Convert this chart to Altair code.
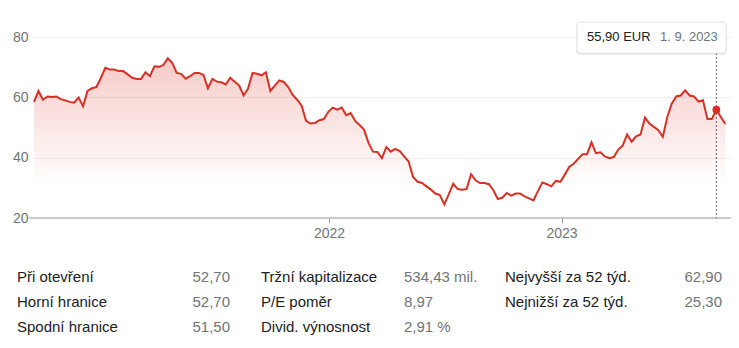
import altair as alt
import pandas as pd

# Weekly closing prices (EUR)
values = [
    58.5, 62.1, 59.2, 60.3, 60.1, 60.3, 59.4, 59.0, 58.5, 58.2, 59.9, 57.0,
    62.1, 63.0, 63.4, 66.5, 69.8, 69.2, 69.2, 68.7, 68.7, 67.6, 66.5, 66.1,
    66.1, 68.3, 67.0, 70.3, 70.1, 70.7, 72.9, 71.4, 68.1, 67.8, 66.2, 67.0,
    68.1, 68.1, 67.4, 63.0, 66.1, 65.2, 65.0, 64.3, 66.5, 65.2, 63.9, 60.6,
    62.9, 68.1, 67.8, 67.3, 68.3, 62.1, 63.9, 65.6, 65.1, 63.4, 60.8, 59.2,
    57.3, 52.2, 51.3, 51.5, 52.4, 52.8, 55.2, 56.6, 55.9, 56.6, 54.1, 54.8,
    52.2, 50.8, 49.3, 44.9, 42.0, 41.9, 39.8, 43.5, 42.0, 42.9, 42.2, 40.4,
    38.7, 33.6, 32.0, 31.6, 30.5, 29.4, 28.1, 27.6, 24.5, 27.8, 31.4, 29.6,
    29.4, 29.6, 34.5, 32.5, 31.6, 31.6, 31.2,
    29.2, 26.3, 26.7, 28.3, 27.4, 28.1, 28.1, 27.2, 26.5, 25.8, 28.9, 31.8,
    31.2, 30.5, 32.3, 32.0, 34.3, 36.9, 38.0, 39.6, 41.1, 41.1, 45.1, 41.5,
    41.8, 40.4, 39.8, 40.2, 42.7, 44.0, 47.7, 45.3, 47.1, 47.7, 53.3, 51.3,
    50.2, 49.1, 46.9, 53.5, 57.9, 60.3, 60.6, 62.3, 60.6, 60.3, 58.6, 59.0,
    52.8, 52.8, 55.9, 53.5, 51.2,
]
dates = pd.date_range("2020-09-25", periods=len(values), freq="7D").strftime("%Y-%m-%d").tolist()

y_ticks = [20, 40, 60, 80]
x_tick_years = [2022, 2023]

marker_date = "2023-09-01"
tooltip_price = "55,90 EUR"
tooltip_date = "1. 9. 2023"

labels1 = ["Při otevření", "Horní hranice", "Spodní hranice"]
values1 = ["52,70", "52,70", "51,50"]
labels2 = ["Tržní kapitalizace", "P/E poměr", "Divid. výnosnost"]
values2 = ["534,43 mil.", "8,97", "2,91 %"]
labels3 = ["Nejvyšší za 52 týd.", "Nejnižší za 52 týd."]
values3 = ["62,90", "25,30"]

FONT = "Liberation Sans"
RED = "#d93025"
W, H = 697, 181

df = pd.DataFrame({"date": dates, "value": values})
marker_df = df[df["date"] == marker_date]
one = pd.DataFrame({"k": [0]})


def dt(y, m, d):
    return alt.DateTime(year=y, month=m, date=d, utc=True)


x_enc = alt.X(
    "date:T",
    scale=alt.Scale(type="utc", domain=[dt(2020, 9, 25), dt(2023, 9, 24)]),
    axis=alt.Axis(
        values=[dt(yr, 1, 1) for yr in x_tick_years],
        format="%Y",
        title=None,
        grid=False,
        domain=False,
        ticks=True,
        tickSize=5,
        tickColor="#9aa0a6",
        labelColor="#70757a",
        labelFontSize=14,
        labelFont=FONT,
        labelPadding=3,
    ),
)
y_enc = alt.Y(
    "value:Q",
    scale=alt.Scale(domain=[20, 80], zero=False, nice=False),
    axis=alt.Axis(
        values=y_ticks,
        title=None,
        domain=False,
        ticks=False,
        labelPadding=6,
        gridColor="#eeeeee",
        labelColor="#70757a",
        labelFontSize=14,
        labelFont=FONT,
    ),
)

gradient = alt.Gradient(
    gradient="linear",
    stops=[
        alt.GradientStop(color="rgba(219,68,55,0.28)", offset=0),
        alt.GradientStop(color="rgba(219,68,55,0.0)", offset=0.8),
    ],
    x1=1, x2=1, y1=0, y2=1,
)

area = alt.Chart(df).mark_area(color=gradient).encode(x=x_enc, y=y_enc, y2=alt.datum(20))
line = alt.Chart(df).mark_line(color=RED, strokeWidth=2).encode(x=x_enc, y=y_enc)

baseline = alt.Chart(one).mark_rule(color="#9aa0a6", strokeWidth=1.2).encode(
    x=alt.value(-5), x2=alt.value(W), y=alt.value(H)
)

vline = alt.Chart(marker_df).mark_rule(color="#5f6368", strokeDash=[2, 2], strokeWidth=1).encode(
    x=x_enc, y=alt.value(16), y2=alt.value(H)
)
dot = alt.Chart(marker_df).mark_circle(size=60, color=RED, opacity=1).encode(x=x_enc, y=y_enc)

shadow = alt.Chart(one).mark_rect(color="#000000", opacity=0.07, cornerRadius=4).encode(
    x=alt.value(542), x2=alt.value(693), y=alt.value(-14), y2=alt.value(18)
)
box = alt.Chart(one).mark_rect(fill="white", stroke="#e3e3e3", strokeWidth=1, cornerRadius=3).encode(
    x=alt.value(543), x2=alt.value(692), y=alt.value(-15), y2=alt.value(16)
)
tt_price = alt.Chart(pd.DataFrame({"t": [tooltip_price]})).mark_text(
    align="left", baseline="middle", font=FONT, fontSize=13, color="#202124"
).encode(x=alt.value(553), y=alt.value(0), text="t:N")
tt_date = alt.Chart(pd.DataFrame({"t": [tooltip_date]})).mark_text(
    align="left", baseline="middle", font=FONT, fontSize=13, color="#70757a"
).encode(x=alt.value(626), y=alt.value(0), text="t:N")

row_y = [240, 265, 290]
table_layers = []
columns = [
    (labels1, -17, "left", "#202124"),
    (values1, 196, "right", "#70757a"),
    (labels2, 227, "left", "#202124"),
    (values2, 370, "left", "#70757a"),
    (labels3, 471, "left", "#202124"),
    (values3, 688, "right", "#70757a"),
]
for texts, px, al, col in columns:
    for i, t in enumerate(texts):
        table_layers.append(
            alt.Chart(pd.DataFrame({"t": [t]})).mark_text(
                align=al, baseline="middle", font=FONT, fontSize=15, color=col
            ).encode(x=alt.value(px), y=alt.value(row_y[i]), text="t:N")
        )

chart = alt.layer(
    area, line, baseline, vline, dot, shadow, box, tt_price, tt_date, *table_layers
).properties(
    width=W,
    height=H,
    padding={"left": 34, "top": 37, "right": 8, "bottom": 130},
    autosize=alt.AutoSizeParams(type="none"),
    background="white",
).configure_view(stroke=None)

chart.save("out.html", embed_options={"renderer": "svg", "actions": False})
